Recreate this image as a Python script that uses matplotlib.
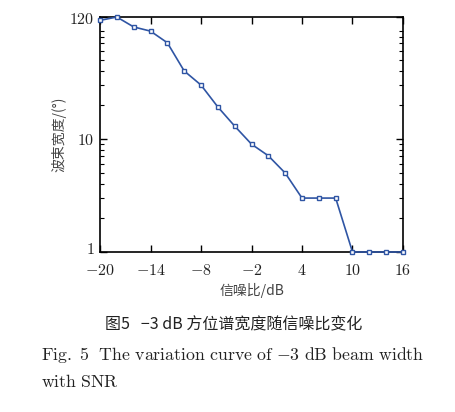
import numpy as np
from matplotlib import pyplot as plt
from matplotlib import transforms
from matplotlib.ticker import LogLocator, NullFormatter

plt.rcParams['mathtext.fontset'] = 'cm'
plt.rcParams['font.family'] = ['Noto Sans CJK SC', 'DejaVu Sans']

snr = [-20, -18, -16, -14, -12, -10, -8, -6, -4, -2, 0, 2, 4, 6, 8, 10, 12, 14, 16]
width = [112, 120, 98, 90, 71, 40, 30, 19.2, 13, 9, 7.1, 5.0, 3, 3, 3, 1, 1, 1, 1]

x_ticks = [-20, -14, -8, -2, 4, 10, 16]
y_ticks = [1, 10, 120]

txt = '#222222'
blue = '#2f55a4'

fig = plt.figure(figsize=(4.56, 4.12), dpi=100)
ax = fig.add_axes([100/456, 1-252/412, 303/456, 235/412])
ax.plot(snr, width, '-', color=blue, lw=1.2, marker='s', ms=3.2,
        mfc='white', mec=blue, mew=1.0, clip_on=False, zorder=3)
ax.set_yscale('log')
ax.set_xlim(-20, 16)
ax.set_ylim(1, 120)

ax.set_xticks(x_ticks)
ax.set_xticklabels(['$%d$' % v for v in x_ticks])
ax.set_yticks(y_ticks)
ax.set_yticklabels(['$%d$' % v for v in y_ticks])
ax.yaxis.set_minor_locator(LogLocator(base=10, subs=np.arange(2, 10)))
ax.yaxis.set_minor_formatter(NullFormatter())

ax.tick_params(which='both', direction='in', top=True, right=True,
               colors='black', labelcolor=txt, labelsize=11.5)
ax.tick_params(which='major', length=5, width=1)
ax.tick_params(which='minor', length=3, width=0.8)
ax.tick_params(axis='x', pad=7)
ax.tick_params(axis='y', pad=4)
for s in ax.spines.values():
    s.set_linewidth(1.2)

# lift the bottom "1" a little, as in the original
lbl = ax.get_yticklabels()[0]
lbl.set_transform(lbl.get_transform() +
                  transforms.ScaledTranslation(0, 3/72, fig.dpi_scale_trans))

ax.set_xlabel('信噪比/dB', fontsize=10, color='#444444', labelpad=3)
ax.set_ylabel('波束宽度/(°)', fontsize=10, color='#444444', labelpad=2)

fig.text(234/456, 1-325/412, '图5   −3 dB 方位谱宽度随信噪比变化',
         ha='center', va='center', fontsize=11.5, color=txt)
fig.text(41/456, 1-355/412,
         r'$\mathrm{Fig.\ 5\ \ The\ variation\ curve\ of\ {-3}\ dB\ beam\ width}$',
         ha='left', va='center', fontsize=12.8, color=txt)
fig.text(41/456, 1-382/412, r'$\mathrm{with\ SNR}$',
         ha='left', va='center', fontsize=12.8, color=txt)

fig.savefig('out.png', dpi=100)
